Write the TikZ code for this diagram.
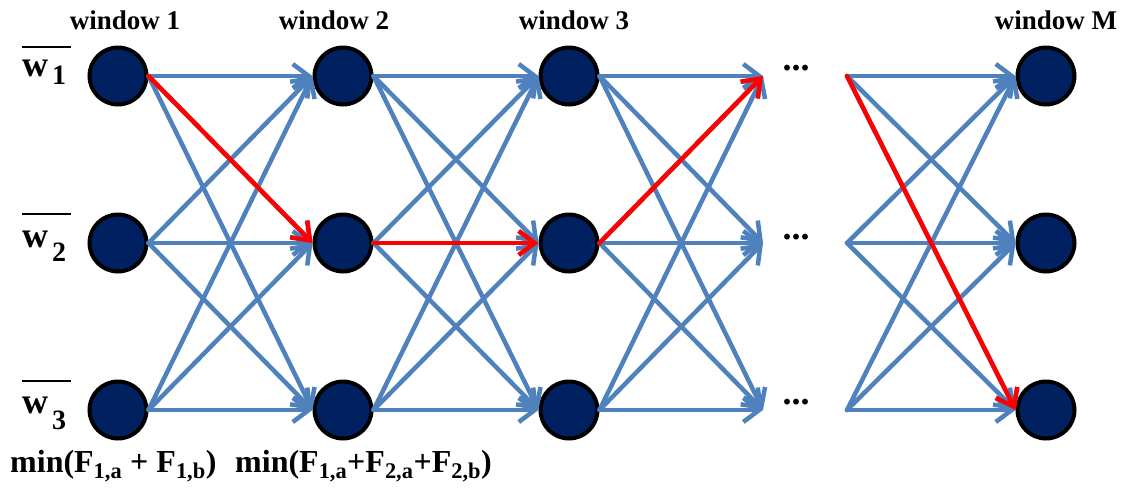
\documentclass[tikz,border=0pt]{standalone}
\usepackage{fontspec}
\setmainfont{Liberation Serif}
\usetikzlibrary{arrows.meta}
\definecolor{navy}{HTML}{002060}
\definecolor{edgeblue}{HTML}{4F81BD}
\definecolor{edgered}{HTML}{FF0000}
\newcommand{\wlabtext}[3]{\rlap{\raisebox{#2}{\rule{49pt}{2.5pt}}}w\hspace{4pt}\raisebox{-#3}{\fontsize{28}{28}\selectfont #1}}
\begin{document}
\begin{tikzpicture}[x=1pt,y=-1pt,
  win/.style={circle, draw=black, line width=4pt, fill=navy, minimum size=57pt, inner sep=0pt},
  link/.style={draw=edgeblue, line width=4.5pt, line cap=round, -{Straight Barb[length=16pt,width=24pt]}},
  hot/.style={link, draw=edgered},
  title/.style={font=\bfseries\fontsize{27}{30}\selectfont, inner sep=0pt, anchor=base},
  wlab/.style={font=\bfseries\fontsize{36}{40}\selectfont, inner sep=0pt, anchor=base west},
  formula/.style={font=\bfseries\fontsize{32}{36}\selectfont, inner sep=0pt, anchor=base west},
  dotsty/.style={font=\bfseries\fontsize{36}{36}\selectfont, inner sep=0pt, anchor=base}
]
\useasboundingbox (0,0) rectangle (1132,488);
% window nodes
\foreach \r/\y in {1/76,2/243,3/410}{
  \node[win] (a\r) at (118,\y) {};
  \node[win] (b\r) at (343,\y) {};
  \node[win] (c\r) at (569,\y) {};
  \node[win] (m\r) at (1046,\y) {};
  \coordinate (d\r) at (763,\y);
  \coordinate (e\r) at (847,\y);
}
% titles
\node[title] (t1) at (125,29) {window 1};
\node[title] (t2) at (334,29) {window 2};
\node[title] (t3) at (574,29) {window 3};
\node[title] (tm) at (1056,29) {window M};
% row labels
\node[wlab] (l1) at (22,76) {\wlabtext{1}{28pt}{8pt}};
\node[wlab] (l2) at (22,247) {\wlabtext{2}{32pt}{14pt}};
\node[wlab] (l3) at (22,413) {\wlabtext{3}{31pt}{16pt}};
% dots
\node[dotsty] (p1) at (796,70) {...};
\node[dotsty] (p2) at (796,239) {...};
\node[dotsty] (p3) at (796,404) {...};
% formulas
\node[formula] (f1) at (10,472) {min(F\textsubscript{1,a} + F\textsubscript{1,b})};
\node[formula] (f2) at (235,472) {min(F\textsubscript{1,a}+F\textsubscript{2,a}+F\textsubscript{2,b})};
% blue connectors
\foreach \s in {1,2,3}{
  \foreach \t in {1,2,3}{
    \draw[link] (a\s.east) -- (b\t.west);
    \draw[link] (b\s.east) -- (c\t.west);
    \draw[link] (c\s.east) -- (d\t);
    \draw[link] (e\s) -- (m\t.west);
  }
}
% red path
\draw[hot] (a1.east) -- (b2.west);
\draw[hot] (b2.east) -- (c2.west);
\draw[hot] (c2.east) -- (d1);
\draw[hot] (e1) -- (m3.west);
\end{tikzpicture}
\end{document}
